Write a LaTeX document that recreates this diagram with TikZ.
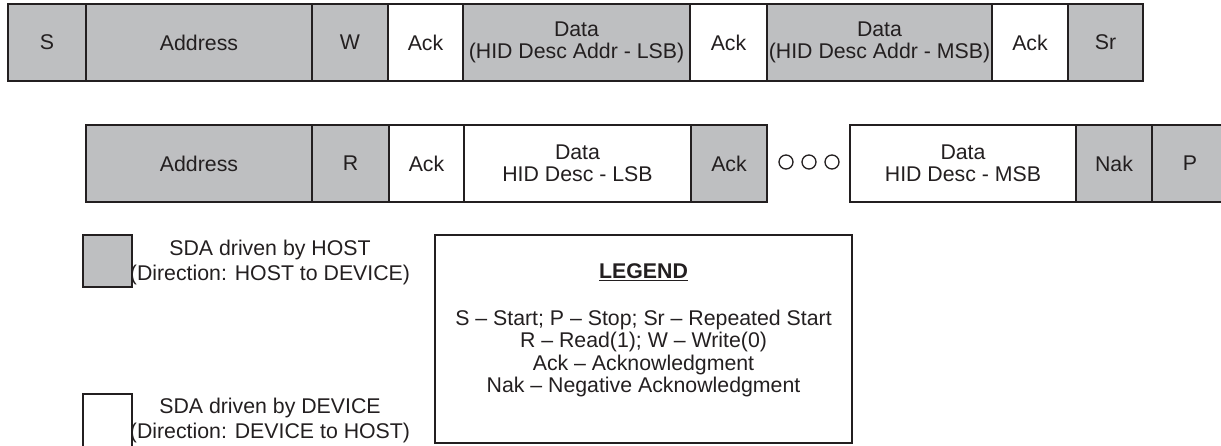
\documentclass[tikz,border=0pt]{standalone}
\usepackage{fontspec}
\setmainfont{Liberation Sans}
\definecolor{hostcolor}{RGB}{190,191,193}
\definecolor{inkcolor}{RGB}{35,31,32}
\tikzset{
  field/.style={draw=inkcolor,line width=2.2pt,minimum height=77pt,inner sep=0pt,text=inkcolor,align=center},
  hostfield/.style={field,fill=hostcolor},
  devicefield/.style={field,fill=white},
  waitdot/.style={circle,draw=inkcolor,line width=1.3pt,minimum size=14pt,inner sep=0pt},
}

\begin{document}
\begin{tikzpicture}[x=1pt,y=-1pt,font=\fontsize{21.3}{22.5}\selectfont,text=inkcolor]
  \useasboundingbox (0,0) rectangle (1221,445);
  % Write transfer (first row)
  \node at(47,42.5)[hostfield,minimum width=78pt](ws){S};
  \node at(199,42.5)[hostfield,minimum width=226pt](waddr){Address};
  \node at(350,42.5)[hostfield,minimum width=76pt](wbit){W};
  \node at(425.5,42.5)[devicefield,minimum width=75pt](wack1){Ack};
  \node at(576.5,42.5)[hostfield,minimum width=227pt](wlsb){Data\\(HID Desc Addr - LSB)};
  \node at(728.5,42.5)[devicefield,minimum width=77pt](wack2){Ack};
  \node at(879.5,42.5)[hostfield,minimum width=225pt](wmsb){Data\\(HID Desc Addr - MSB)};
  \node at(1030,42.5)[devicefield,minimum width=76pt](wack3){Ack};
  \node at(1105.5,42.5)[hostfield,minimum width=75pt](wsr){Sr};
  % Read transfer (second row)
  \node at(199,163.5)[hostfield,minimum width=226pt](raddr){Address};
  \node at(350.5,163.5)[hostfield,minimum width=77pt](rbit){R};
  \node at(426.5,163.5)[devicefield,minimum width=75pt](rack1){Ack};
  \node at(577.5,163.5)[devicefield,minimum width=227pt](rlsb){Data\\HID Desc - LSB};
  \node at(729,163.5)[hostfield,minimum width=76pt](rack2){Ack};
  % More bytes
  \node at(786,162)[waitdot](dot1){};
  \node at(809,162)[waitdot](dot2){};
  \node at(832,162)[waitdot](dot3){};
  \node at(963,163.5)[devicefield,minimum width=226pt](rmsb){Data\\HID Desc - MSB};
  \node at(1114,163.5)[hostfield,minimum width=76pt](rnak){Nak};
  \node at(1190,163.5)[hostfield,minimum width=76pt](rp){P};
  % Direction key
  \node at(107.5,261)[hostfield,minimum width=49pt,minimum height=52pt](hostkey){};
  \node at(270,262.5)[align=center,font=\fontsize{21.3}{25}\selectfont](hosttext){SDA driven by HOST\\(Direction: HOST to DEVICE)};
  \node at(107.5,420.5)[devicefield,minimum width=49pt,minimum height=53pt](devicekey){};
  \node at(270,420.5)[align=center,font=\fontsize{21.3}{25}\selectfont](devicetext){SDA driven by DEVICE\\(Direction: DEVICE to HOST)};
  % Legend
  \node at(643.5,339)[draw=inkcolor,line width=2.2pt,minimum width=417pt,minimum height=208pt](legend){};
  \node at(643.5,272)(legendtitle){\underline{\textbf{LEGEND}}};
  \node at(643.5,353.5)[align=center,font=\fontsize{21.3}{22.3}\selectfont](legendtext){S – Start; P – Stop; Sr – Repeated Start\\R – Read(1); W – Write(0)\\Ack – Acknowledgment\\Nak – Negative Acknowledgment};
\end{tikzpicture}
\end{document}
